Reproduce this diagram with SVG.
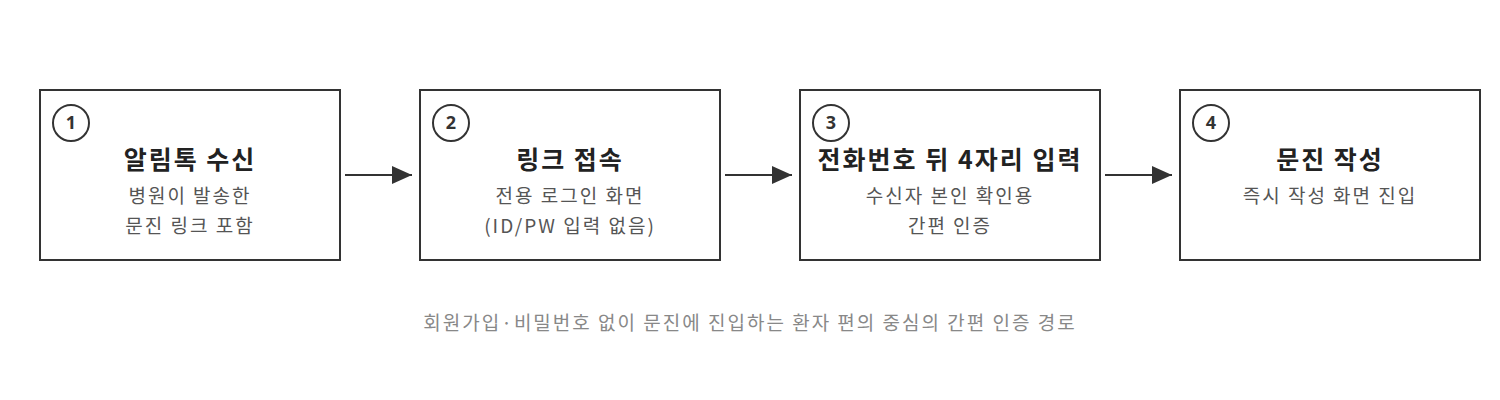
<svg xmlns="http://www.w3.org/2000/svg" width="1500" height="400" viewBox="0 0 1500 400">
<style>
.box{fill:#fff;stroke:#333;stroke-width:2}
.num{fill:#fff;stroke:#333;stroke-width:2}
.nt{font-family:"Noto Sans","Noto Sans CJK KR",sans-serif;font-size:18px;font-weight:bold;fill:#333;text-anchor:middle}
.t{font-family:"Noto Sans CJK KR",sans-serif;font-size:25px;font-weight:bold;fill:#222;text-anchor:middle;letter-spacing:2px}
.s{font-family:"Noto Sans CJK KR",sans-serif;font-size:19px;fill:#555;text-anchor:middle;letter-spacing:2px}
.c{font-family:"Noto Sans CJK KR",sans-serif;font-size:19px;fill:#888;text-anchor:middle;letter-spacing:2px}
.ln{stroke:#333;stroke-width:2;fill:none}
</style>
<defs>
<marker id="ah" viewBox="0 0 20 20" refX="20" refY="10" markerWidth="20" markerHeight="20" markerUnits="userSpaceOnUse" orient="auto"><path d="M0,1L20,10L0,19z" fill="#333"/></marker></defs>
<g id="n1"><rect class="box" x="40" y="90" width="300" height="170"/><circle class="num" cx="71" cy="123" r="18"/><text class="nt" x="71" y="129">1</text><text class="t" x="190" y="169">알림톡 수신</text><text class="s" x="190" y="203">병원이 발송한</text><text class="s" x="190" y="233">문진 링크 포함</text></g>
<g id="n2"><rect class="box" x="420" y="90" width="300" height="170"/><circle class="num" cx="451" cy="123" r="18"/><text class="nt" x="451" y="129">2</text><text class="t" x="570" y="169">링크 접속</text><text class="s" x="570" y="203">전용 로그인 화면</text><text class="s" x="570" y="233">(ID/PW 입력 없음)</text></g>
<g id="n3"><rect class="box" x="800" y="90" width="300" height="170"/><circle class="num" cx="831" cy="123" r="18"/><text class="nt" x="831" y="129">3</text><text class="t" x="950" y="169" letter-spacing="1">전화번호 뒤 4자리 입력</text><text class="s" x="950" y="203">수신자 본인 확인용</text><text class="s" x="950" y="233">간편 인증</text></g>
<g id="n4"><rect class="box" x="1180" y="90" width="300" height="170"/><circle class="num" cx="1211" cy="123" r="18"/><text class="nt" x="1211" y="129">4</text><text class="t" x="1330" y="169">문진 작성</text><text class="s" x="1330" y="203">즉시 작성 화면 진입</text></g>
<g id="connectors"><line class="ln" x1="345" y1="175" x2="412" y2="175" marker-end="url(#ah)"/><line class="ln" x1="725" y1="175" x2="792" y2="175" marker-end="url(#ah)"/><line class="ln" x1="1105" y1="175" x2="1172" y2="175" marker-end="url(#ah)"/></g>
<text class="c" x="750" y="330">회원가입·비밀번호 없이 문진에 진입하는 환자 편의 중심의 간편 인증 경로</text>
</svg>
